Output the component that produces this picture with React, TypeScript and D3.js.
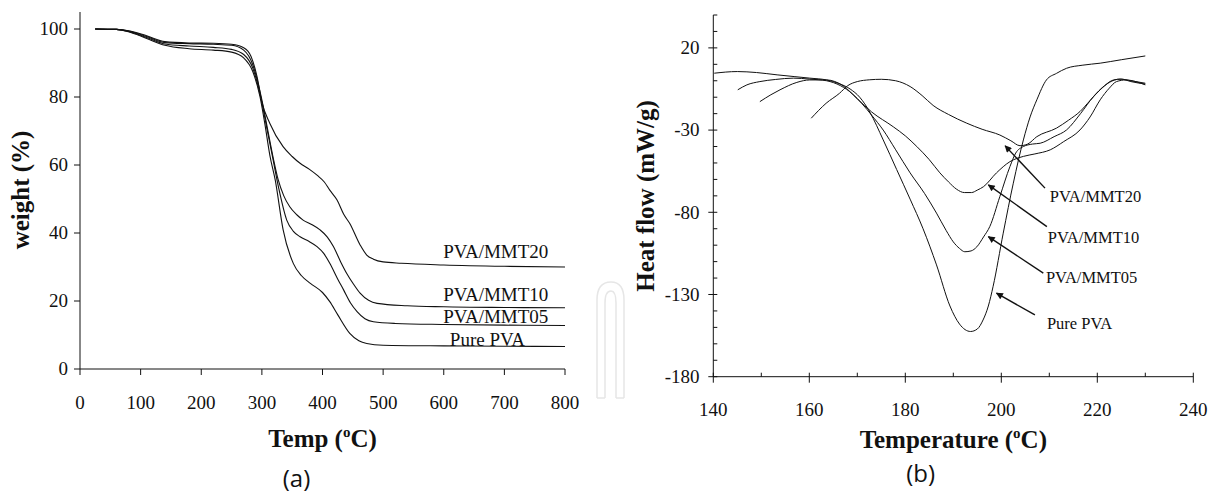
import * as d3 from 'd3';

// TGA curves: [temperature °C, weight %]
const pvaTga: [number, number][] = [
  [25, 100], [60, 99.9], [80, 99.2], [110, 97.2], [140, 95.2], [180, 94.2], [220, 93.8],
  [250, 93.2], [270, 91.5], [285, 87.5], [297, 80], [305, 72], [313, 63], [322, 55.6],
  [335, 41], [352, 31], [365, 27.5], [380, 25.2], [400, 22.5], [412, 19.8], [425, 16],
  [445, 10.5], [460, 8.3], [473, 7.5], [500, 7], [600, 6.8], [700, 6.7], [800, 6.6],
];
const mmt05Tga: [number, number][] = [
  [25, 100], [60, 99.9], [80, 99.3], [110, 97.5], [140, 95.6], [180, 95], [220, 94.6],
  [250, 94], [270, 92.5], [285, 88.5], [298, 80], [308, 71], [318, 62], [328, 53],
  [341, 43.8], [352, 40.5], [363, 38.9], [378, 37.5], [391, 36], [402, 34], [412, 31.1],
  [425, 26.5], [435, 23.2], [446, 19.5], [457, 16.9], [470, 14.8], [484, 13.9], [520, 13.4],
  [600, 13.1], [700, 12.9], [800, 12.8],
];
const mmt10Tga: [number, number][] = [
  [25, 100], [60, 99.9], [80, 99.4], [110, 97.8], [140, 96], [180, 95.7], [220, 95.5],
  [250, 95.2], [270, 93.8], [285, 89.5], [299, 80], [310, 70], [320, 61], [327, 55.6],
  [336, 51], [346, 47.7], [358, 45.3], [368, 43.8], [382, 42.5], [396, 40.9], [408, 38.8],
  [418, 36], [430, 31.5], [440, 28.1], [451, 25], [462, 22.3], [476, 20.2], [490, 19.3],
  [540, 18.6], [600, 18.3], [700, 18.1], [800, 18],
];
const mmt20Tga: [number, number][] = [
  [25, 100], [60, 99.9], [80, 99.5], [110, 98], [140, 96.3], [180, 95.9], [220, 95.8],
  [250, 95.5], [270, 94.5], [282, 92], [292, 86], [300, 78.5], [313, 72.3], [335, 65.4],
  [350, 62.5], [363, 60.5], [378, 58.8], [391, 57], [403, 55], [412, 52.6], [424, 49.7],
  [435, 45.5], [445, 42.8], [462, 36.5], [473, 33.5], [484, 32.3], [500, 31.5], [530, 31.1],
  [600, 30.6], [700, 30.2], [800, 30],
];

// DSC curves: [temperature °C, heat flow mW/g]
const pvaDsc: [number, number][] = [
  [140.2, 4.6], [145, 5.6], [149, 5], [153.3, 3.6], [157, 2.5], [160.1, 1.6], [163.6, 0.5],
  [166, -1.5], [168.5, -5], [170.5, -10], [172.6, -19], [175.4, -36], [178.2, -54], [181, -72],
  [183.7, -90], [186.5, -112], [189.3, -137], [191.3, -148], [193.6, -152.5], [195, -151],
  [196.2, -145.5], [197.3, -137], [198.3, -125], [200.4, -92.7], [202.5, -62.3], [204.6, -36],
  [206, -22], [207.4, -11.6], [209.4, 0.5], [211.5, 4.5], [213.6, 7.6], [217, 9.5],
  [220.6, 10.7], [225, 12.8], [230, 15.1],
];
const mmt05Dsc: [number, number][] = [
  [145.1, -5.5], [147, -2.5], [149.7, -0.5], [153, 0.8], [156.7, 1.6], [160.1, 1], [163.6, 0],
  [166.5, -3], [169, -8], [171, -14], [173, -21], [175.4, -30], [178, -42], [181, -56],
  [184, -68.5], [186.5, -80.5], [188.5, -91], [190, -98], [191.3, -102], [192.4, -104],
  [193.7, -103.5], [194.9, -101], [196.3, -95], [197.6, -88.7], [199.7, -70.4], [201.8, -52.2],
  [203, -44], [204.6, -40], [206.5, -38.5], [208.1, -38], [211, -34], [213.6, -29.9],
  [216.5, -20], [219.2, -9.6], [221.5, -3], [223.4, 0.5], [225, 1], [227, -0.5], [230, -2],
];
const mmt10Dsc: [number, number][] = [
  [149.7, -12.7], [152, -8.5], [153.9, -5.5], [157.4, -1], [160.1, 0.5], [163.6, 0.5],
  [167, -3], [170, -11], [173, -19], [177.5, -28], [180, -33.5], [182.4, -40], [185, -48],
  [187.2, -56], [189, -61.5], [190.7, -66], [192.3, -68], [193.8, -68], [195, -66.5],
  [196.3, -64.4], [199, -56], [201.8, -49.2], [204.6, -46], [207, -44.5], [210.2, -42],
  [213, -37], [216.4, -29.9], [218.5, -22], [220.6, -11.6], [222.5, -4.5], [224, -0.5],
  [226, 0.5], [228, -0.5], [230, -2.5],
];
const mmt20Dsc: [number, number][] = [
  [160.4, -22.8], [163.5, -13.7], [166.3, -7.6], [168, -3], [170, -0.5], [172.6, 0.6],
  [175, 0.9], [178, 0], [181, -3.5], [183.5, -9], [185.8, -15], [189, -20.5], [192.8, -25.8],
  [196, -29.5], [199.7, -33], [202, -36.5], [203.9, -39.5], [205.5, -38.5], [207.4, -34],
  [211.5, -28.8], [214, -24], [216.4, -18.7], [218.5, -12], [220.6, -5.5], [222.5, -1],
  [224.7, 1], [227, 0], [230, -1.5],
];

const tgaXTicks = [0, 100, 200, 300, 400, 500, 600, 700, 800];
const tgaYTicks = [0, 20, 40, 60, 80, 100];
const dscXMajor = [140, 160, 180, 200, 220, 240];
const dscXMinor = [150, 170, 190, 210, 230];
const dscYMajor = [-180, -130, -80, -30, 20];
const dscYMinor = d3.range(-170, 41, 10).filter((v) => !dscYMajor.includes(v));

// labels placed in data coordinates
const tgaLabels = [
  { name: 'PVA/MMT20', at: [599, 32.6] },
  { name: 'PVA/MMT10', at: [599, 20] },
  { name: 'PVA/MMT05', at: [599, 13.4] },
  { name: 'Pure PVA', at: [610, 6.8] },
];
const dscLabels = [
  { name: 'PVA/MMT20', at: [210.1, -73.7], from: [209.1, -65.3], to: [200.8, -39.6] },
  { name: 'PVA/MMT10', at: [209.7, -98.4], from: [209.5, -88.7], to: [197.3, -63.3] },
  { name: 'PVA/MMT05', at: [209.3, -122.8], from: [208.75, -117], to: [197.3, -94.8] },
  { name: 'Pure PVA', at: [209.5, -150.9], from: [207, -142.4], to: [199, -129.2] },
];

const SERIF = '"Liberation Serif", "Times New Roman", serif';
const INK = '#111';

const TgaChart = () => {
  const x = d3.scaleLinear().domain([0, 800]).range([80, 565]);
  const y = d3.scaleLinear().domain([0, 105]).range([369, 12]);
  const line = d3
    .line<[number, number]>()
    .x((d) => x(d[0]))
    .y((d) => y(d[1]))
    .curve(d3.curveMonotoneX);

  return (
    <g fontFamily={SERIF} fill={INK}>
      {[pvaTga, mmt05Tga, mmt10Tga, mmt20Tga].map((s, i) => (
        <path key={i} d={line(s) ?? ''} fill="none" stroke={INK} strokeWidth={1.1} />
      ))}
      <line x1={x(0)} x2={x(800)} y1={y(0)} y2={y(0)} stroke={INK} />
      <line x1={x(0)} x2={x(0)} y1={y(0)} y2={y(105)} stroke={INK} />
      {tgaXTicks.map((t) => (
        <g key={t}>
          <line x1={x(t)} x2={x(t)} y1={y(0)} y2={y(0) + 6} stroke={INK} />
          <text x={x(t)} y={409} textAnchor="middle" fontSize={19}>{t}</text>
        </g>
      ))}
      {tgaYTicks.map((t) => (
        <g key={t}>
          <line x1={x(0) - 6} x2={x(0)} y1={y(t)} y2={y(t)} stroke={INK} />
          <text x={68} y={y(t) + 6.4} textAnchor="end" fontSize={19}>{t}</text>
        </g>
      ))}
      {tgaLabels.map((l) => (
        <text key={l.name} x={x(l.at[0])} y={y(l.at[1])} fontSize={19}>{l.name}</text>
      ))}
      <text x={322.5} y={447} textAnchor="middle" fontSize={25} fontWeight="bold">
        Temp (<tspan fontSize={15} dy={-10}>o</tspan><tspan dy={10}>C)</tspan>
      </text>
      <text
        transform="translate(29,190) rotate(-90)"
        textAnchor="middle"
        fontSize={25}
        fontWeight="bold"
      >
        weight (%)
      </text>
    </g>
  );
};

const DscChart = () => {
  const x = d3.scaleLinear().domain([140, 240]).range([713.3, 1193.3]);
  const y = d3.scaleLinear().domain([-180, 40]).range([376.7, 15]);
  const line = d3
    .line<[number, number]>()
    .x((d) => x(d[0]))
    .y((d) => y(d[1]))
    .curve(d3.curveMonotoneX);
  const x0 = x(140);
  const yb = y(-180);

  return (
    <g fontFamily={SERIF} fill={INK}>
      <defs>
        <marker id="arrowhead" viewBox="0 0 10 10" refX={9} refY={5} markerWidth={9} markerHeight={7} orient="auto" markerUnits="userSpaceOnUse">
          <path d="M0,0 L10,5 L0,10 z" fill={INK} />
        </marker>
      </defs>
      {[pvaDsc, mmt05Dsc, mmt10Dsc, mmt20Dsc].map((s, i) => (
        <path key={i} d={line(s) ?? ''} fill="none" stroke={INK} strokeWidth={1} />
      ))}
      <line x1={x0} x2={x(240)} y1={yb} y2={yb} stroke={INK} />
      <line x1={x0} x2={x0} y1={yb} y2={y(40)} stroke={INK} />
      {dscXMajor.map((t) => (
        <g key={t}>
          <line x1={x(t)} x2={x(t)} y1={yb - 4} y2={yb + 6} stroke={INK} />
          <text x={x(t)} y={415.6} textAnchor="middle" fontSize={19}>{t}</text>
        </g>
      ))}
      {dscXMinor.map((t) => (
        <line key={t} x1={x(t)} x2={x(t)} y1={yb - 4} y2={yb} stroke={INK} />
      ))}
      {dscYMajor.map((t) => (
        <g key={t}>
          <line x1={x0 - 5} x2={x0 + 4} y1={y(t)} y2={y(t)} stroke={INK} />
          <text x={699.5} y={y(t) + 6.4} textAnchor="end" fontSize={19}>{t}</text>
        </g>
      ))}
      {dscYMinor.map((t) => (
        <line key={t} x1={x0} x2={x0 + 4} y1={y(t)} y2={y(t)} stroke={INK} />
      ))}
      {dscLabels.map((l) => (
        <g key={l.name}>
          <line
            x1={x(l.from[0])}
            y1={y(l.from[1])}
            x2={x(l.to[0])}
            y2={y(l.to[1])}
            stroke={INK}
            strokeWidth={1.4}
            markerEnd="url(#arrowhead)"
          />
          <text x={x(l.at[0])} y={y(l.at[1])} fontSize={16.5}>{l.name}</text>
        </g>
      ))}
      <text x={953.3} y={448} textAnchor="middle" fontSize={25} fontWeight="bold">
        Temperature (<tspan fontSize={15} dy={-10}>o</tspan><tspan dy={10}>C)</tspan>
      </text>
      <text
        transform="translate(654,196) rotate(-90)"
        textAnchor="middle"
        fontSize={25}
        fontWeight="bold"
      >
        Heat flow (mW/g)
      </text>
    </g>
  );
};

export default function App() {
  return (
    <div style={{ position: 'absolute', left: 0, top: 0 }}>
      <svg width={1209} height={495} style={{ display: 'block', background: '#fff' }}>
        {/* faint publisher watermark */}
        <path
          d="M597,398 L597,300 Q597,282 611,282 Q624,282 624,300 L624,398 M605,398 L605,303 Q605,291 611,291 Q616,291 616,303 L616,398 M597,398 L605,398 M616,398 L624,398"
          fill="none"
          stroke="#e6e6e6"
          strokeWidth={1.5}
        />
        <TgaChart />
        <DscChart />
        <text x={296.5} y={487} textAnchor="middle" fontFamily='"Open Sans", sans-serif' fontSize={24} fill={INK}>(a)</text>
        <text x={920.7} y={482} textAnchor="middle" fontFamily='"Open Sans", sans-serif' fontSize={24} fill={INK}>(b)</text>
      </svg>
    </div>
  );
}
